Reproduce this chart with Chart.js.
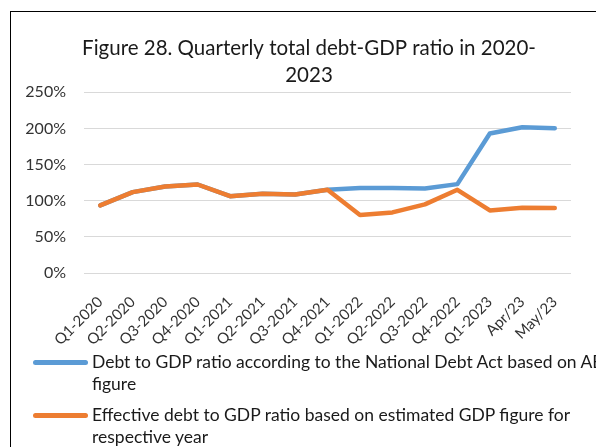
<!DOCTYPE html>
<html>
<head>
<meta charset="utf-8">
<script src="https://cdn.jsdelivr.net/npm/chart.js@4"></script>
<style>
  html, body { margin: 0; padding: 0; width: 596px; height: 447px; overflow: hidden; background: #fff; }
  #frame { position: absolute; left: 10px; top: 11px; width: 700px; height: 500px; border: 1px solid #000; }
  #wrap { position: absolute; left: 11px; top: 12px; width: 596px; height: 349px; }
  #legend { position: absolute; left: 33px; top: 351px; width: 640px; font-family: Lato, sans-serif; font-size: 17.5px; line-height: 22px; color: #1a1a1a; }
  #legend .item { display: flex; align-items: flex-start; margin-bottom: 9px; }
  #legend .swatch { flex: none; width: 55px; height: 5px; border-radius: 3px; margin: 8.5px 4px 0 0; }
  #legend .text { width: 560px; }
</style>
</head>
<body>
<div id="frame"></div>
<div id="wrap"><canvas id="debtChart"></canvas></div>
<div id="legend"></div>
<script>
// quarterly debt-to-GDP ratios, in percent
var categories = ['Q1-2020', 'Q2-2020', 'Q3-2020', 'Q4-2020', 'Q1-2021', 'Q2-2021', 'Q3-2021', 'Q4-2021',
    'Q1-2022', 'Q2-2022', 'Q3-2022', 'Q4-2022', 'Q1-2023', 'Apr/23', 'May/23'];
var nationalDebtAct = [93.6, 112, 119.8, 122.5, 106.4, 109.7, 108.7, 115.2, 117.5, 117.5, 117, 123, 193, 201.7, 200.3];
var effectiveRatio = [93.6, 112, 119.8, 122.5, 106.4, 109.7, 108.7, 115.2, 80.2, 83.9, 95, 115.2, 86.7, 90.3, 89.9];
var seriesNames = [
    'Debt to GDP ratio according to the National Debt Act based on ABS figure',
    'Effective debt to GDP ratio based on estimated GDP figure for respective year'
];
var yMax = 250;
var yStep = 50;

// html legend so the long labels can wrap like the original
var htmlLegend = {
    id: 'htmlLegend',
    afterUpdate: function (chart) {
        var box = document.getElementById('legend');
        box.innerHTML = '';
        chart.data.datasets.forEach(function (ds) {
            var item = document.createElement('div');
            item.className = 'item';
            var sw = document.createElement('span');
            sw.className = 'swatch';
            sw.style.background = ds.borderColor;
            var txt = document.createElement('span');
            txt.className = 'text';
            txt.textContent = ds.label;
            item.appendChild(sw);
            item.appendChild(txt);
            box.appendChild(item);
        });
    }
};

// y axis is squeezed so the title centres like the original;
// widen its box afterwards so the tick labels are not clipped
var unclipY = {
    id: 'unclipY',
    afterLayout: function (chart) {
        chart.scales.y.left = 0;
    }
};

document.addEventListener("DOMContentLoaded", function () {
    var ctx = document.getElementById('debtChart').getContext('2d');
    new Chart(ctx, {
        type: 'line',
        data: {
            labels: categories,
            datasets: [{
                label: seriesNames[0],
                data: nationalDebtAct,
                borderColor: '#5B9BD5',
                backgroundColor: '#5B9BD5',
                order: 1
            }, {
                label: seriesNames[1],
                data: effectiveRatio,
                borderColor: '#ED7D31',
                backgroundColor: '#ED7D31',
                order: 0   // orange sits on top of blue
            }]
        },
        options: {
            responsive: true,
            maintainAspectRatio: false,
            animation: false,
            elements: {
                line: { borderWidth: 4.5, tension: 0, borderCapStyle: 'round', borderJoinStyle: 'round' },
                point: { radius: 0, hoverRadius: 0 }
            },
            layout: { padding: { left: 36, right: 36, bottom: 0 } },
            scales: {
                x: {
                    offset: true,
                    grid: { display: false },
                    border: { display: false },
                    ticks: {
                        autoSkip: false,
                        minRotation: 45,
                        maxRotation: 45,
                        padding: 12,
                        color: '#333',
                        font: { family: 'Lato', size: 15 }
                    }
                },
                y: {
                    min: 0,
                    max: yMax,
                    afterFit: function (scale) { scale.width = 37; },
                    grid: { color: '#d9d9d9', lineWidth: 1, drawTicks: false },
                    border: { display: false },
                    ticks: {
                        stepSize: yStep,
                        padding: 18,
                        color: '#333',
                        font: { family: 'Lato', size: 16 },
                        callback: function (v) { return v + '%'; }
                    }
                }
            },
            plugins: {
                legend: { display: false },
                tooltip: { enabled: false },
                title: {
                    display: true,
                    text: ['Figure 28. Quarterly total debt-GDP ratio in 2020-', '2023'],
                    color: '#1a1a1a',
                    font: { family: 'Lato', size: 20.5, weight: 'normal', lineHeight: 1.3 },
                    padding: { top: 23, bottom: 4 }
                }
            }
        },
        plugins: [htmlLegend, unclipY]
    });
});
</script>
</body>
</html>
